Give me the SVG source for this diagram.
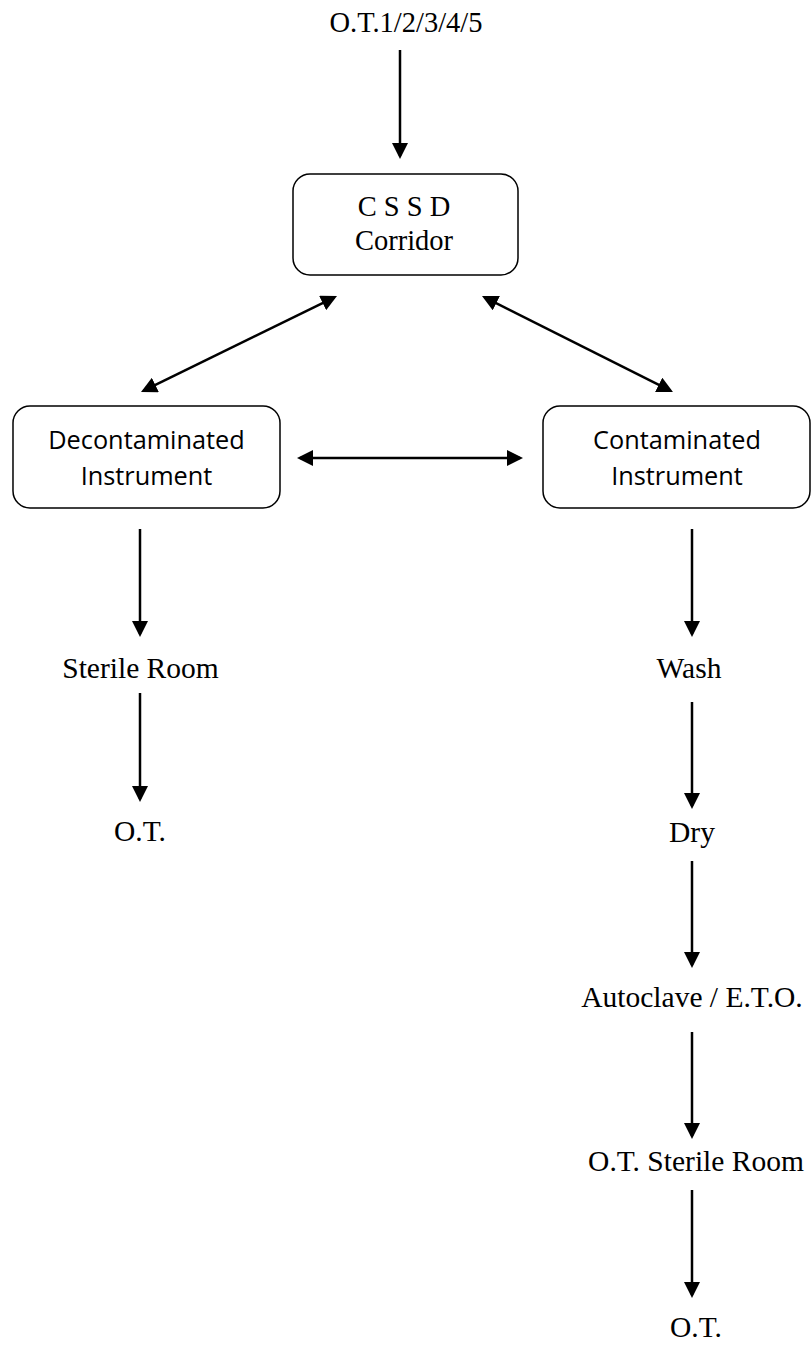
<svg xmlns="http://www.w3.org/2000/svg" width="812" height="1348" viewBox="0 0 812 1348">
  <defs>
    <marker id="head" markerUnits="userSpaceOnUse" markerWidth="16" markerHeight="16" viewBox="0 0 16 16" refX="13" refY="8" orient="auto-start-reverse">
      <path d="M0,0 L16,8 L0,16 z" fill="#000"/>
    </marker>
    <style>
      .box { fill: #fff; stroke: #000; stroke-width: 1.5; }
      .serif { font-family: "Liberation Serif", "Times New Roman", serif; font-size: 28.5px; fill: #000; text-anchor: middle; }
      .step { font-size: 29.5px; }
      .sans { font-family: "Open Sans", "Liberation Sans", sans-serif; font-size: 25.3px; fill: #000; text-anchor: middle; }
      .one { fill: none; stroke: #000; stroke-width: 2.5; marker-end: url(#head); }
      .two { fill: none; stroke: #000; stroke-width: 2.5; marker-start: url(#head); marker-end: url(#head); }
    </style>
  </defs>
  <rect width="812" height="1348" fill="#fff"/>

  <g id="connectors">
    <line class="one" x1="400" y1="50" x2="400" y2="156"/>
    <line class="two" x1="143.7" y1="390.7" x2="334.3" y2="297.3"/>
    <line class="two" x1="484.7" y1="297.3" x2="670.3" y2="390.7"/>
    <line class="two" x1="300" y1="458" x2="520" y2="458"/>
    <!-- decontaminated branch -->
    <line class="one" x1="140" y1="529" x2="140" y2="634"/>
    <line class="one" x1="140" y1="693" x2="140" y2="799"/>
    <!-- contaminated branch -->
    <line class="one" x1="692" y1="529" x2="692" y2="634"/>
    <line class="one" x1="692" y1="702" x2="692" y2="806"/>
    <line class="one" x1="692" y1="861" x2="692" y2="965"/>
    <line class="one" x1="692" y1="1032" x2="692" y2="1136"/>
    <line class="one" x1="692" y1="1190" x2="692" y2="1295"/>
  </g>

  <g id="ot-source">
    <text class="serif" x="406" y="32">O.T.1/2/3/4/5</text>
  </g>

  <g id="cssd-corridor">
    <rect class="box" x="293" y="174" width="225" height="101" rx="17"/>
    <text class="serif" x="404" y="216">C S S D</text>
    <text class="serif" x="404" y="250">Corridor</text>
  </g>

  <g id="decontaminated">
    <rect class="box" x="13" y="406" width="267" height="102" rx="17"/>
    <text class="sans" x="146.5" y="449">Decontaminated</text>
    <text class="sans" x="146.5" y="485">Instrument</text>
  </g>

  <g id="contaminated">
    <rect class="box" x="543" y="406" width="267" height="102" rx="17"/>
    <text class="sans" x="677" y="449">Contaminated</text>
    <text class="sans" x="677" y="485">Instrument</text>
  </g>

  <g id="sterile-room">
    <text class="serif step" x="140.5" y="678">Sterile Room</text>
  </g>
  <g id="ot-left">
    <text class="serif step" x="140" y="841">O.T.</text>
  </g>

  <g id="wash">
    <text class="serif step" x="689" y="678">Wash</text>
  </g>
  <g id="dry">
    <text class="serif step" x="692" y="842">Dry</text>
  </g>
  <g id="autoclave">
    <text class="serif step" x="692" y="1007">Autoclave / E.T.O.</text>
  </g>
  <g id="ot-sterile-room">
    <text class="serif step" x="696" y="1171">O.T. Sterile Room</text>
  </g>
  <g id="ot-right">
    <text class="serif step" x="696" y="1337">O.T.</text>
  </g>
</svg>
